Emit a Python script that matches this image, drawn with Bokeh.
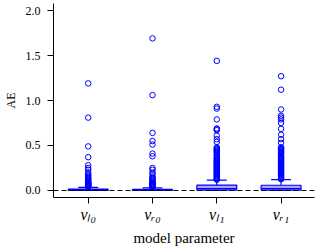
from bokeh.plotting import figure
from bokeh.models import Span, FixedTicker, PrintfTickFormatter, Range1d, ColumnDataSource
from bokeh.embed import file_html
from bokeh.resources import INLINE

# categories (model parameters) and their tick labels  v_{ℓ0}, v_{r0}, v_{ℓ1}, v_{r1}
categories = ["vₗ₀", "vᵣ₀", "vₗ₁", "vᵣ₁"]
cat_pos = [0, 1, 2, 3]

# box statistics (AE)
q1 = [0.001, 0.001, 0.004, 0.004]
med = [0.004, 0.004, 0.020, 0.020]
q3 = [0.015, 0.012, 0.060, 0.058]
lo_wh = [0.0, 0.0, 0.0, 0.0]
hi_wh = [0.035, 0.030, 0.115, 0.120]

# outliers per parameter
out_l0 = [1.19, 0.81, 0.49, 0.37, 0.28, 0.25, 0.23, 0.20, 0.18, 0.165, 0.15, 0.14, 0.13,
          0.12, 0.11, 0.10, 0.09, 0.085, 0.08, 0.075, 0.07, 0.065, 0.06, 0.055, 0.05,
          0.045, 0.04]
out_r0 = [1.69, 1.06, 0.64, 0.55, 0.51, 0.41, 0.38, 0.25, 0.23, 0.20, 0.18, 0.155, 0.14,
          0.13, 0.12, 0.11, 0.10, 0.09, 0.08, 0.075, 0.07, 0.065, 0.06, 0.055, 0.05,
          0.045, 0.04, 0.035]
out_l1 = [1.44, 0.93, 0.91, 0.79, 0.69, 0.68, 0.67, 0.61, 0.57, 0.54, 0.48, 0.47, 0.46,
          0.45, 0.44, 0.43, 0.42, 0.40, 0.39, 0.37, 0.36, 0.35, 0.34, 0.33, 0.32, 0.31,
          0.30, 0.29, 0.28, 0.27, 0.26, 0.25, 0.24, 0.23, 0.22, 0.21, 0.20, 0.19, 0.18,
          0.17, 0.16, 0.15, 0.14, 0.13, 0.125, 0.12]
out_r1 = [1.27, 1.12, 0.90, 0.83, 0.81, 0.79, 0.75, 0.685, 0.62, 0.57, 0.53, 0.48, 0.47,
          0.46, 0.45, 0.44, 0.43, 0.42, 0.41, 0.40, 0.38, 0.37, 0.36, 0.35, 0.34, 0.33,
          0.32, 0.31, 0.30, 0.29, 0.28, 0.27, 0.26, 0.25, 0.24, 0.23, 0.22, 0.21, 0.20,
          0.19, 0.18, 0.17, 0.16, 0.15, 0.14, 0.13, 0.125]
outliers = [out_l0, out_r0, out_l1, out_r1]

y_ticks = [0.0, 0.5, 1.0, 1.5, 2.0]

BLUE = "#0000ff"
SERIF = "Liberation Serif"
BOX_W = 0.62
CAP_W = 0.31

p = figure(width=318, height=248, output_backend="svg", toolbar_location=None,
           x_range=Range1d(-0.54, 3.52), y_range=Range1d(-0.078, 2.078),
           min_border_left=50, min_border_right=4, min_border_top=3, min_border_bottom=51)
p.outline_line_color = None
p.xgrid.visible = False
p.ygrid.visible = False
p.background_fill_color = "white"
p.border_fill_color = "white"

# zero reference line
p.add_layout(Span(location=0, dimension="width", line_color="black",
                  line_dash="5 3", line_width=1.2))

box_src = ColumnDataSource(dict(
    x=cat_pos, left=[c - BOX_W / 2 for c in cat_pos], right=[c + BOX_W / 2 for c in cat_pos],
    cl=[c - CAP_W / 2 for c in cat_pos], cr=[c + CAP_W / 2 for c in cat_pos],
    q1=q1, q3=q3, med=med, lo=lo_wh, hi=hi_wh))

p.segment(x0="x", y0="q3", x1="x", y1="hi", source=box_src, line_color=BLUE, line_width=1.2)
p.segment(x0="x", y0="q1", x1="x", y1="lo", source=box_src, line_color=BLUE, line_width=1.2)
p.segment(x0="cl", y0="hi", x1="cr", y1="hi", source=box_src, line_color=BLUE, line_width=1.2)
p.segment(x0="cl", y0="lo", x1="cr", y1="lo", source=box_src, line_color=BLUE, line_width=1.2)
p.quad(left="left", right="right", bottom="q1", top="q3", source=box_src,
       fill_color=BLUE, fill_alpha=0.35, line_color=BLUE, line_width=1.2)
p.segment(x0="left", y0="med", x1="right", y1="med", source=box_src, line_color=BLUE, line_width=1.2)

ox, oy = [], []
for c, vals in zip(cat_pos, outliers):
    ox += [c] * len(vals)
    oy += vals
p.scatter(ox, oy, marker="circle", size=5.5, fill_color=None, line_color=BLUE, line_width=1.0)

# axes
for ax in (p.xaxis[0], p.yaxis[0]):
    ax.axis_line_color = "black"
    ax.major_tick_line_color = "black"
    ax.minor_tick_line_color = None
    ax.major_tick_out = 6
    ax.major_tick_in = 0
    ax.axis_label_text_font = SERIF
    ax.axis_label_text_font_style = "normal"
    ax.major_label_text_font = SERIF
    ax.major_label_text_color = "black"
    ax.axis_label_text_color = "black"

p.yaxis.ticker = FixedTicker(ticks=y_ticks)
p.yaxis.formatter = PrintfTickFormatter(format="%.1f")
p.yaxis.major_label_text_font_size = "12px"
p.yaxis.major_label_standoff = 7
p.yaxis.axis_label = "AE"
p.yaxis.axis_label_text_font_size = "12px"
p.yaxis.axis_label_standoff = 5

p.xaxis.ticker = FixedTicker(ticks=cat_pos)
p.xaxis.major_label_overrides = {c: lab for c, lab in zip(cat_pos, categories)}
p.xaxis.major_label_text_font = SERIF
p.xaxis.major_label_text_font_style = "italic"
p.xaxis.major_label_text_font_size = "16px"
p.xaxis.major_label_standoff = 2
p.xaxis.axis_label = "model parameter"
p.xaxis.axis_label_text_font_size = "15px"
p.xaxis.axis_label_standoff = 4

open("out.html", "w").write(file_html(p, INLINE))
